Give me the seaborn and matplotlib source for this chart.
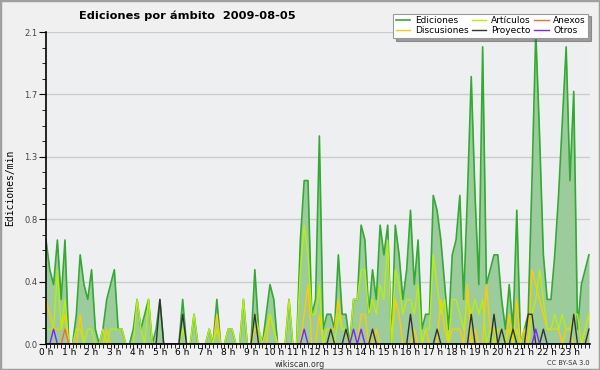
import numpy as np
import matplotlib
matplotlib.use("Agg")
import matplotlib.pyplot as plt
import seaborn as sns
from matplotlib.patches import Rectangle
from matplotlib.ticker import MultipleLocator, FixedLocator

# ediciones por minuto, un punto cada 10 minutos (144 puntos)
ediciones = [0.7, 0.5, 0.4, 0.7, 0.3, 0.7, 0.0, 0.0, 0.2, 0.6, 0.4, 0.3,
             0.5, 0.1, 0.0, 0.1, 0.3, 0.4, 0.5, 0.1, 0.1, 0.0, 0.0, 0.1,
             0.3, 0.1, 0.2, 0.3, 0.0, 0.1, 0.3, 0.0, 0.0, 0.0, 0.0, 0.0,
             0.3, 0.0, 0.0, 0.2, 0.0, 0.0, 0.0, 0.1, 0.0, 0.3, 0.0, 0.0,
             0.1, 0.1, 0.0, 0.0, 0.3, 0.0, 0.0, 0.5, 0.1, 0.0, 0.2, 0.4,
             0.3, 0.0, 0.0, 0.0, 0.3, 0.0, 0.0, 0.7, 1.1, 1.1, 0.2, 0.3,
             1.4, 0.1, 0.2, 0.2, 0.1, 0.6, 0.2, 0.2, 0.0, 0.3, 0.3, 0.8,
             0.7, 0.2, 0.5, 0.3, 0.8, 0.6, 0.8, 0.0, 0.8, 0.6, 0.3, 0.5,
             0.9, 0.4, 0.7, 0.1, 0.2, 0.2, 1.0, 0.9, 0.7, 0.4, 0.1, 0.6,
             0.7, 1.0, 0.3, 1.0, 1.8, 1.0, 0.4, 2.0, 0.4, 0.5, 0.6, 0.6,
             0.3, 0.1, 0.4, 0.1, 0.9, 0.0, 0.1, 0.2, 1.1, 2.1, 1.4, 0.6,
             0.3, 0.3, 0.6, 1.0, 1.5, 2.0, 1.1, 1.7, 0.1, 0.4, 0.5, 0.6]

articulos = [0.1, 0.1, 0.1, 0.5, 0.1, 0.3, 0.0, 0.0, 0.1, 0.1, 0.0, 0.1,
             0.1, 0.0, 0.0, 0.1, 0.0, 0.1, 0.1, 0.1, 0.1, 0.0, 0.0, 0.0,
             0.3, 0.1, 0.0, 0.3, 0.0, 0.0, 0.0, 0.0, 0.0, 0.0, 0.0, 0.0,
             0.1, 0.0, 0.0, 0.2, 0.0, 0.0, 0.0, 0.1, 0.0, 0.1, 0.0, 0.0,
             0.1, 0.1, 0.0, 0.0, 0.3, 0.0, 0.0, 0.2, 0.1, 0.0, 0.1, 0.2,
             0.1, 0.0, 0.0, 0.0, 0.3, 0.0, 0.0, 0.5, 0.8, 0.6, 0.2, 0.2,
             0.4, 0.0, 0.1, 0.1, 0.0, 0.2, 0.1, 0.1, 0.0, 0.3, 0.3, 0.5,
             0.5, 0.2, 0.3, 0.2, 0.4, 0.3, 0.7, 0.0, 0.5, 0.4, 0.2, 0.3,
             0.3, 0.2, 0.4, 0.0, 0.1, 0.1, 0.6, 0.4, 0.2, 0.3, 0.0, 0.3,
             0.3, 0.2, 0.1, 0.3, 0.2, 0.3, 0.2, 0.3, 0.0, 0.1, 0.0, 0.1,
             0.1, 0.0, 0.1, 0.0, 0.1, 0.0, 0.0, 0.0, 0.2, 0.3, 0.5, 0.3,
             0.1, 0.1, 0.2, 0.1, 0.2, 0.1, 0.1, 0.2, 0.2, 0.0, 0.1, 0.2]

discusiones = [0.3, 0.2, 0.1, 0.1, 0.1, 0.2, 0.0, 0.0, 0.0, 0.2, 0.0, 0.0,
               0.0, 0.0, 0.0, 0.0, 0.1, 0.0, 0.0, 0.0, 0.0, 0.0, 0.0, 0.0,
               0.0, 0.0, 0.0, 0.0, 0.0, 0.0, 0.0, 0.0, 0.0, 0.0, 0.0, 0.0,
               0.0, 0.0, 0.0, 0.0, 0.0, 0.0, 0.0, 0.0, 0.0, 0.2, 0.0, 0.0,
               0.0, 0.0, 0.0, 0.0, 0.0, 0.0, 0.0, 0.1, 0.1, 0.0, 0.0, 0.2,
               0.1, 0.0, 0.0, 0.0, 0.0, 0.0, 0.0, 0.0, 0.2, 0.4, 0.0, 0.0,
               0.2, 0.0, 0.1, 0.1, 0.1, 0.3, 0.1, 0.1, 0.0, 0.0, 0.0, 0.2,
               0.2, 0.0, 0.0, 0.1, 0.0, 0.0, 0.0, 0.0, 0.3, 0.2, 0.0, 0.0,
               0.0, 0.1, 0.0, 0.0, 0.1, 0.0, 0.0, 0.0, 0.3, 0.1, 0.0, 0.1,
               0.1, 0.1, 0.0, 0.4, 0.0, 0.1, 0.0, 0.0, 0.4, 0.1, 0.1, 0.0,
               0.0, 0.0, 0.2, 0.0, 0.3, 0.0, 0.1, 0.0, 0.5, 0.4, 0.3, 0.2,
               0.1, 0.1, 0.1, 0.1, 0.0, 0.1, 0.1, 0.0, 0.0, 0.0, 0.1, 0.2]

# solo los intervalos con algo (indice de 10 min -> valor)
proyecto_idx = [30, 36, 55, 75, 79, 86, 96, 103, 112, 118, 120, 123, 127, 128, 131, 139, 143]
proyecto_val = [0.3, 0.2, 0.2, 0.1, 0.1, 0.1, 0.2, 0.1, 0.2, 0.2, 0.1, 0.1, 0.2, 0.2, 0.1, 0.2, 0.1]
anexos_idx = [5]
anexos_val = [0.1]
otros_idx = [2, 68, 81, 83, 129]
otros_val = [0.1, 0.1, 0.1, 0.1, 0.1]

hour_labels = [f"{h} h" for h in range(24)]


def spread(idx, vals, n=144):
    out = np.zeros(n)
    out[idx] = vals
    return out


hours = np.arange(144) / 6.0
proyecto = spread(proyecto_idx, proyecto_val)
anexos = spread(anexos_idx, anexos_val)
otros = spread(otros_idx, otros_val)

fig = plt.figure(figsize=(6, 3.7), dpi=100, facecolor="#f0f0f0")
ax = fig.add_axes([46 / 600, 26 / 370, 544 / 600, 312 / 370])
ax.set_facecolor("#eeeff1")

# area total
ax.fill_between(hours, ediciones, color="#9ccb9c", lw=0)
sns.lineplot(x=hours, y=ediciones, color="#33aa33", lw=1.2, ax=ax, label="Ediciones")
sns.lineplot(x=hours, y=discusiones, color="#ffcc00", lw=1.0, ax=ax, label="Discusiones")
sns.lineplot(x=hours, y=articulos, color="#b8ee10", lw=1.0, ax=ax, label="Artículos")
sns.lineplot(x=hours, y=proyecto, color="#333333", lw=1.0, ax=ax, label="Proyecto")
sns.lineplot(x=hours, y=anexos, color="#ff6633", lw=1.0, ax=ax, label="Anexos")
sns.lineplot(x=hours, y=otros, color="#7f22ff", lw=1.0, ax=ax, label="Otros")

ax.set_xlim(0, 23.88)
ax.set_ylim(0, 2.1)

yt = [0, 0.42, 0.84, 1.26, 1.68, 2.1]
ax.yaxis.set_major_locator(FixedLocator(yt))
ax.set_yticklabels(["0.0", "0.4", "0.8", "1.3", "1.7", "2.1"])
ax.yaxis.set_minor_locator(MultipleLocator(0.105))
ax.xaxis.set_major_locator(FixedLocator(range(24)))
ax.set_xticklabels(hour_labels)
ax.xaxis.set_minor_locator(MultipleLocator(1 / 6))

ax.grid(axis="y", which="major", color="#cccccc", lw=1)
ax.set_axisbelow(True)
for s in ["top", "right"]:
    ax.spines[s].set_visible(False)
for s in ["left", "bottom"]:
    ax.spines[s].set_color("black")
    ax.spines[s].set_linewidth(1.2)

ax.tick_params(axis="y", which="major", length=5, labelsize=6, labelcolor="#444444", pad=1)
ax.tick_params(axis="y", which="minor", length=3)
ax.tick_params(axis="x", which="major", length=3, labelsize=6.5, pad=0)
ax.tick_params(axis="x", which="minor", length=3)

ax.set_xlabel("")
ax.set_ylabel("Ediciones/min", family="DejaVu Sans Mono", fontsize=7, labelpad=7)

fig.text(0.313, 0.958, "Ediciones por ámbito  2009-08-05", fontsize=8.2,
         fontweight="bold", ha="center", va="center")
fig.text(0.5, 0.016, "wikiscan.org", fontsize=5.8, ha="center", va="center", color="#333333")
fig.text(0.983, 0.018, "CC BY-SA 3.0", fontsize=4.8, ha="right", va="center", color="#333333")

handles, labels = ax.get_legend_handles_labels()
leg = ax.legend(handles, labels, ncol=3, loc="upper right",
                bbox_to_anchor=(593 / 600, 1 - 9 / 370), bbox_transform=fig.transFigure,
                fontsize=6.5, handlelength=1.6, handletextpad=0.5, columnspacing=0.4,
                labelspacing=0.1, borderpad=0.3, fancybox=False, shadow=True,
                framealpha=1, edgecolor="#999999")
leg.get_frame().set_linewidth(0.8)

fig.patches.append(Rectangle((0, 0), 1, 1, transform=fig.transFigure, fill=False,
                             edgecolor="#a0a0a0", lw=2.5))

fig.savefig("out.png", dpi=100, facecolor=fig.get_facecolor())
